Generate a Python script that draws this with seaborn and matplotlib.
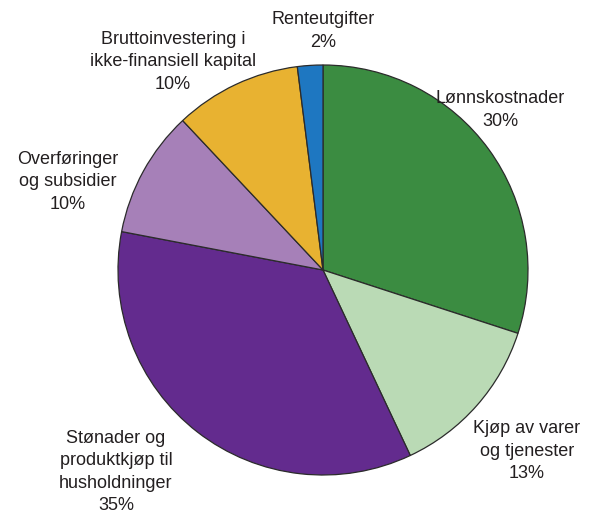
import matplotlib
matplotlib.use('Agg')
import matplotlib.pyplot as plt
import numpy as np
import seaborn as sns

sns.set_theme(style="white")
plt.rcParams['font.family'] = ['Liberation Sans', 'DejaVu Sans']

# data (clockwise from 12 o'clock)
labels = ["Lønnskostnader", "Kjøp av varer\nog tjenester",
          "Stønader og\nproduktkjøp til\nhusholdninger",
          "Overføringer\nog subsidier",
          "Bruttoinvestering i\nikke-finansiell kapital",
          "Renteutgifter"]
shares = [30, 13, 35, 10, 10, 2]
colors = ["#3B8C41", "#BADAB5", "#632B8E", "#A680B8", "#E8B231", "#1E77C1"]

# label placement in figure pixels (y from top)
label_pos = [(500, 110), (527, 451), (116, 472), (68, 182), (173, 62), (323, 31)]

W, H = 592, 515
fig = plt.figure(figsize=(W / 100, H / 100), dpi=100)
ax = fig.add_axes([0, 0, 1, 1])

ax.pie(shares, colors=colors, startangle=90, counterclock=False,
       center=(323, H - 270), radius=205, frame=True,
       wedgeprops=dict(edgecolor="#2b2b2b", linewidth=0.9))
ax.set_xlim(0, W)
ax.set_ylim(0, H)
ax.set_aspect('equal')
ax.axis('off')

for lab, val, (x, y) in zip(labels, shares, label_pos):
    ax.text(x, H - y, f"{lab}\n{val}%", ha='center', va='center',
            fontsize=13, color="#231f20", linespacing=1.42)

plt.savefig("out.png", dpi=100)
